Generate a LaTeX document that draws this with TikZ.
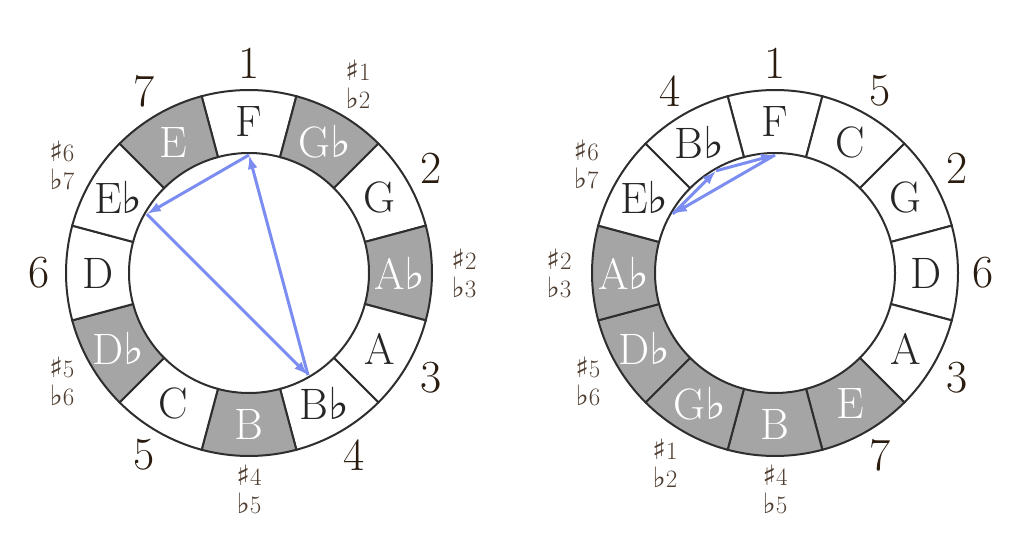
\documentclass[tikz,border=0pt]{standalone}
\usepackage{fontspec}
\newfontfamily\musicsym{DejaVu Serif}
\usetikzlibrary{arrows.meta}
\definecolor{keygrey}{HTML}{A5A5A5}
\definecolor{degbrown}{HTML}{2B1C10}
\definecolor{accbrown}{HTML}{4E3D30}
\definecolor{walkblue}{HTML}{7B8DF0}
\newcommand\fl{{\musicsym ♭}}
\newcommand\bigsym[1]{{\musicsym\fontsize{28}{28}\selectfont #1}}
\newcommand\acc[2]{\bigsym{♯}#1\\\bigsym{♭}#2}
\tikzset{
  seg/.style={draw=black!82, line width=2pt},
  nat seg/.style={seg, fill=white},
  acc seg/.style={seg, fill=keygrey},
  nat note/.style={font=\fontsize{44}{44}\selectfont, text=black!85, inner sep=0pt},
  acc note/.style={font=\fontsize{44}{44}\selectfont, text=white, inner sep=0pt},
  num label/.style={font=\fontsize{46}{46}\selectfont, text=degbrown, inner sep=0pt},
  acc label/.style={font=\fontsize{25}{28}\selectfont, text=accbrown, align=center, inner sep=0pt},
  walk/.style={walkblue, line width=3pt, -{Latex[length=14pt,width=10pt]}}
}
\begin{document}
\begin{tikzpicture}[x=1pt, y=1pt]
    \useasboundingbox (0,0) rectangle (1024,552);
    % chromatic ring
    \begin{scope}[shift={(249,279)}]
        \foreach [count=\i from 0] \n/\t/\s/\d/\k/\r in {
            F/F/nat/1/num/210, Gb/G\fl/acc/{\acc{1}{2}}/acc/218,
            G/G/nat/2/num/210, Ab/A\fl/acc/{\acc{2}{3}}/acc/215,
            A/A/nat/3/num/210, Bb/B\fl/nat/4/num/210,
            B/B/acc/{\acc{4}{5}}/acc/216, C/C/nat/5/num/210,
            Db/D\fl/acc/{\acc{5}{6}}/acc/216, D/D/nat/6/num/210,
            Eb/E\fl/nat/{\acc{6}{7}}/acc/216, E/E/acc/7/num/210} {
            \pgfmathsetmacro\a{90-30*\i}
            \draw[\s\space seg] (\a-15:120) arc[start angle=\a-15, end angle=\a+15, radius=120pt]
                -- (\a+15:183) arc[start angle=\a+15, end angle=\a-15, radius=183pt] -- cycle;
            \node[\s\space note] (L\n) at (\a:151) {\t};
            \node[\k\space label] (L\n-deg) at (\a:\r) {\d};
            \coordinate (L\n-in) at (\a:118);
        }
    \end{scope}
    % ring of fifths
    \begin{scope}[shift={(775,279)}]
        \foreach [count=\i from 0] \n/\t/\s/\d/\k/\r in {
            F/F/nat/1/num/210, C/C/nat/5/num/210,
            G/G/nat/2/num/210, D/D/nat/6/num/208,
            A/A/nat/3/num/210, E/E/acc/7/num/210,
            B/B/acc/{\acc{4}{5}}/acc/216, Gb/G\fl/acc/{\acc{1}{2}}/acc/220,
            Db/D\fl/acc/{\acc{5}{6}}/acc/216, Ab/A\fl/acc/{\acc{2}{3}}/acc/216,
            Eb/E\fl/nat/{\acc{6}{7}}/acc/218, Bb/B\fl/nat/4/num/210} {
            \pgfmathsetmacro\a{90-30*\i}
            \draw[\s\space seg] (\a-15:120) arc[start angle=\a-15, end angle=\a+15, radius=120pt]
                -- (\a+15:183) arc[start angle=\a+15, end angle=\a-15, radius=183pt] -- cycle;
            \node[\s\space note] (R\n) at (\a:151) {\t};
            \node[\k\space label] (R\n-deg) at (\a:\r) {\d};
            \coordinate (R\n-in) at (\a:118);
        }
    \end{scope}
    \draw[walk] (LF-in) -- (LEb-in);
    \draw[walk] (LEb-in) -- (LBb-in);
    \draw[walk] (LBb-in) -- (LF-in);
    \draw[walk] (RF-in) -- (REb-in);
    \draw[walk] (REb-in) -- (RBb-in);
    \draw[walk] (RBb-in) -- (RF-in);
\end{tikzpicture}
\end{document}
